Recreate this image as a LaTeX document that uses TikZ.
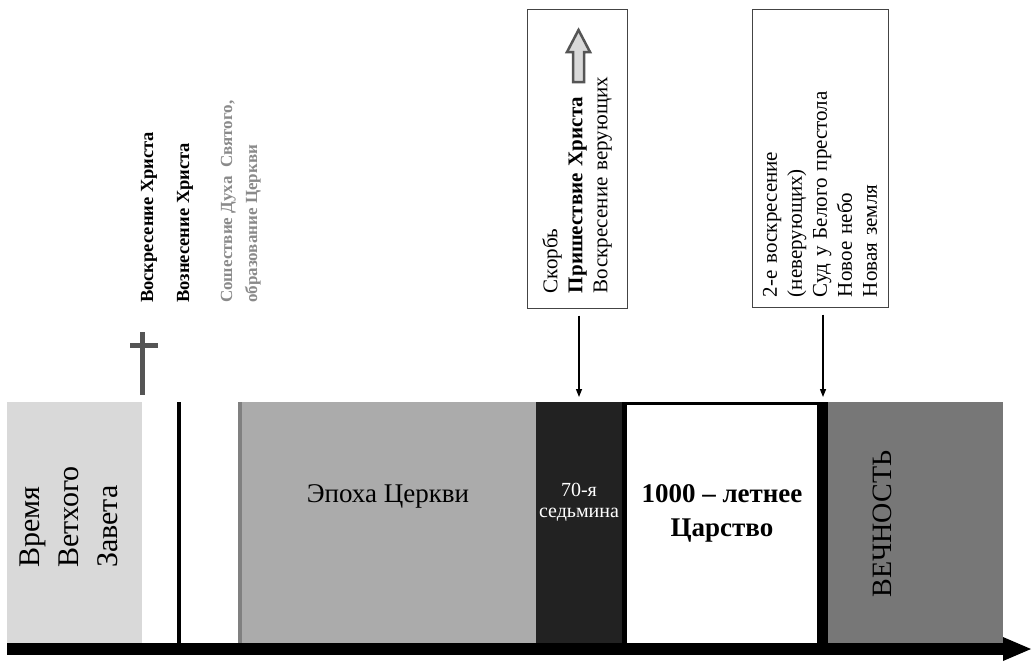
\documentclass[tikz,border=0pt]{standalone}
\usepackage{fontspec}
\setmainfont{Liberation Serif}
\usetikzlibrary{arrows.meta}
\definecolor{otgray}{HTML}{D9D9D9}
\definecolor{churchgray}{HTML}{ABABAB}
\definecolor{weekblack}{HTML}{222222}
\definecolor{eterngray}{HTML}{777777}
\definecolor{midgray}{HTML}{808080}
\definecolor{crossgray}{HTML}{555555}
\definecolor{boxline}{HTML}{444444}
\definecolor{labelgray}{HTML}{8A8A8A}
\begin{document}
\begin{tikzpicture}[x=1pt,y=-1pt,
  block/.style={inner sep=0pt, outer sep=0pt, anchor=north west},
  evbox/.style={draw=boxline, line width=1pt, rotate=90, align=left, inner ysep=0pt,
    font=\fontsize{21}{25}\selectfont},
  conn/.style={line width=1.3pt, -{Triangle[length=8pt,width=6pt]}},
  vlabel/.style={rotate=90, anchor=base west, inner sep=0pt, font=\fontsize{18.5}{22}\selectfont\bfseries},
  glabel/.style={vlabel, text=labelgray, font=\fontsize{17}{20}\selectfont\bfseries}
]
\useasboundingbox (0,0) rectangle (1032,665);

% blocks
\node[block, fill=otgray, minimum width=135pt, minimum height=241pt] (ot) at (7,402) {};
\node[block, fill=churchgray, minimum width=294pt, minimum height=241pt] (church) at (242,402) {};
\node[block, fill=weekblack, minimum width=86pt, minimum height=241pt] (week) at (536,402) {};
\node[block, fill=black, minimum width=206pt, minimum height=241pt] (millframe) at (622,402) {};
\node[block, fill=white, minimum width=190pt, minimum height=238pt] (mill) at (627,405) {};
\node[block, fill=eterngray, minimum width=175pt, minimum height=241pt] (etern) at (828,402) {};

% event lines
\fill[black] (177,402) rectangle (181,643);
\fill[midgray] (238,402) rectangle (242,647);

% axis
\fill[black] (7,643) rectangle (1004,655);
\fill[black] (1003,637) -- (1031,649) -- (1003,661) -- cycle;

% cross
\fill[crossgray] (140,332) rectangle (145,395);
\fill[crossgray] (130,343) rectangle (158,348);

% block labels
\node[rotate=90, align=left, inner sep=0pt, font=\fontsize{30}{39}\selectfont] (otl) at (69,517) {Время\\Ветхого\\Завета};
\node[inner sep=0pt, anchor=base, font=\fontsize{27}{30}\selectfont] (chl) at (388,502) {Эпоха Церкви};
\node[inner sep=0pt, align=center, text=white, font=\fontsize{20}{21}\selectfont] (wkl) at (579,502) {70-я\\седьмина};
\node[inner sep=0pt, align=center, font=\fontsize{27}{34}\selectfont\bfseries] (mll) at (722,513) {1000 – летнее\\Царство};
\node[rotate=90, inner sep=0pt, font=\fontsize{28}{30}\selectfont] (etl) at (882,524) {ВЕЧНОСТЬ};

% vertical event labels
\node[vlabel] (res) at (153,303) {Воскресение Христа};
\node[vlabel] (asc) at (189,303) {Вознесение Христа};
\node[glabel] (sp1) at (232,303) {Сошествие Духа \ Святого,};
\node[glabel] (sp2) at (257,303) {образование Церкви};

% boxes
\node[evbox, minimum height=100pt, text width=269pt, inner xsep=15pt] (box1) at (577,158.5)
  {Скорбь\\\textbf{Пришествие Христа}\\Воскресение верующих};
\node[evbox, minimum height=136pt, text width=278pt, inner xsep=10pt] (box2) at (820,158)
  {2-е воскресение\\(неверующих)\\Суд у Белого престола\\Новое небо\\Новая земля};

% up arrow in box1
\draw[line width=2.5pt, draw=crossgray, fill=otgray, line join=miter]
  (573,82) -- (573,52) -- (567,52) -- (578.5,30) -- (590,52) -- (584,52) -- (584,82) -- cycle;

% connectors
\coordinate (w1) at (579,397);
\coordinate (w2) at (823,397);
\draw[conn] (box1.west -| w1) ++(0,7) -- (w1);
\draw[conn] (box2.west -| w2) ++(0,7) -- (w2);
\end{tikzpicture}
\end{document}
